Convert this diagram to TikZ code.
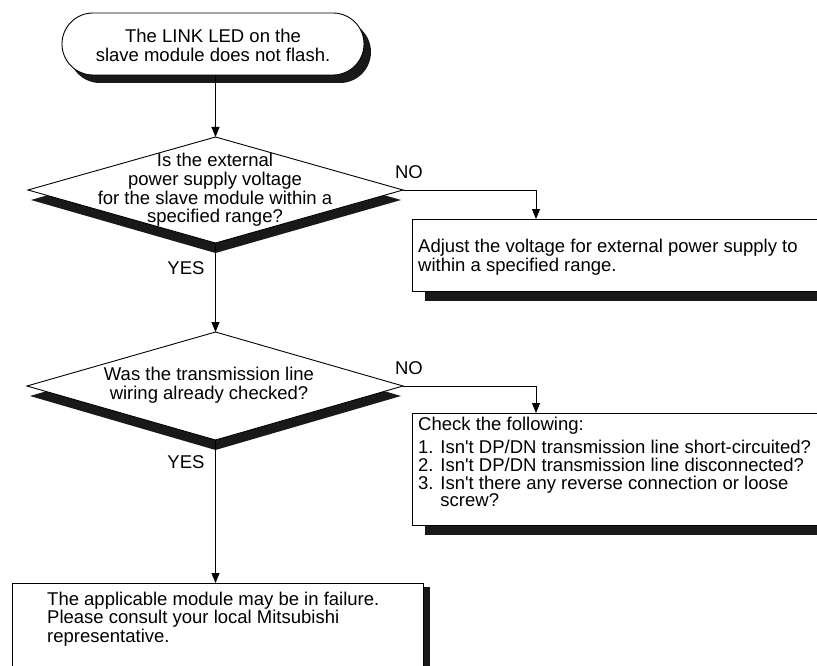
\documentclass[tikz,border=0pt]{standalone}
\usepackage{fontspec}
\setmainfont{Liberation Sans}
\usetikzlibrary{arrows.meta}
\begin{document}
\begin{tikzpicture}[x=1pt,y=-1pt,
  every node/.style={font=\fontsize{18.5}{18.6}\selectfont, inner sep=0pt},
  shapeline/.style={draw=black, line width=0.9pt, fill=white},
  shadow/.style={fill=black!90},
  conn/.style={line width=0.9pt, -{Triangle[length=10pt,width=8pt]}},
  lbl/.style={anchor=center}]
\useasboundingbox (0,0) rectangle (817,666);
\clip (0,0) rectangle (817,666);

% ---- start terminal
\fill[shadow, rounded corners=31pt] (69,21) rectangle (371,83);
\draw[shapeline, rounded corners=31pt] (62,13) rectangle (364,75);
\node[align=center] (start) at (213,45.5) {The LINK LED on the\\slave module does not flash.};
\coordinate (startb) at (215.5,75);

% ---- decision 1
\coordinate (d1t) at (215.5,137);
\coordinate (d1l) at (28,190);
\coordinate (d1r) at (403,190);
\coordinate (d1b) at (215.5,243);
\fill[shadow] (31,200) -- (215.5,147) -- (401,200) -- (215.5,253) -- cycle;
\draw[shapeline] (d1t) -- (d1r) -- (d1b) -- (d1l) -- cycle;
\node[align=center] (q1) at (215,190) {Is the external\\power supply voltage\\for the slave module within a\\specified range?};

% ---- box 1
\fill[shadow] (425,230) rectangle (830,301);
\draw[shapeline] (412,219) rectangle (825,291);
\coordinate (b1t) at (536,219);
\node[anchor=west,align=left] (a1) at (418,257.5) {Adjust the voltage for external power supply to\\within a specified range.};

% ---- decision 2
\coordinate (d2t) at (215.5,332);
\coordinate (d2l) at (27,386);
\coordinate (d2r) at (403,386);
\coordinate (d2b) at (215.5,440);
\fill[shadow] (30,396) -- (215.5,342) -- (401,396) -- (215.5,450) -- cycle;
\draw[shapeline] (d2t) -- (d2r) -- (d2b) -- (d2l) -- cycle;
\node[align=center] (q2) at (209,385) {Was the transmission line\\wiring already checked?};

% ---- box 2
\fill[shadow] (425,425) rectangle (830,535);
\draw[shapeline] (412,413) rectangle (825,525);
\coordinate (b2t) at (536,413);
\node[anchor=west] (c0) at (418,426) {Check the following:};
\node[anchor=west,align=left,font=\fontsize{18.5}{17.8}\selectfont] (c1) at (418,473.5)
  {1. Isn\textquotesingle t DP/DN transmission line short-circuited?\\2. Isn\textquotesingle t DP/DN transmission line disconnected?\\3. Isn\textquotesingle t there any reverse connection or loose\\\phantom{3. }screw?};

% ---- box 3
\fill[shadow] (423,587) rectangle (430,680);
\draw[shapeline] (12,583) rectangle (423,680);
\coordinate (b3t) at (215.5,583);
\node[anchor=west,align=left] (f1) at (47,619) {The applicable module may be in failure.\\Please consult your local Mitsubishi\\representative.};

% ---- connectors
\draw[conn] (startb) -- (d1t);
\draw[conn] (d1r) -| (b1t);
\draw[conn] (d1b) -- (d2t);
\draw[conn] (d2r) -| (b2t);
\draw[conn] (d2b) -- (b3t);

% ---- labels
\node[lbl] (no1) at (409,172) {NO};
\node[lbl] (yes1) at (186,268) {YES};
\node[lbl] (no2) at (409,368) {NO};
\node[lbl] (yes2) at (186,462) {YES};
\end{tikzpicture}
\end{document}
